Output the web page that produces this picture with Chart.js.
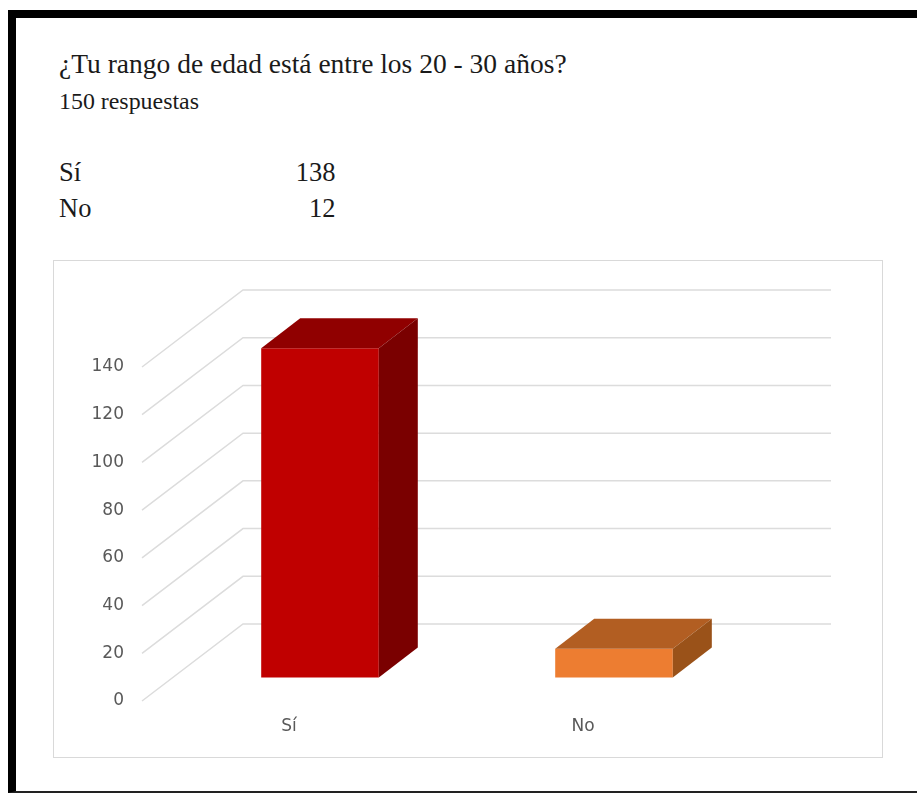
<!DOCTYPE html>
<html lang="es">
<head>
<meta charset="UTF-8">
<title>Rango de edad</title>
<script src="https://cdn.jsdelivr.net/npm/chart.js"></script>
<style>
    html, body { margin: 0; padding: 0; background: #fff; overflow: hidden; }
    body { width: 917px; height: 793px; position: relative; font-family: 'Liberation Serif', serif; color: #1a1a1a; }
    .frame { position: absolute; left: 8px; top: 10px; width: 901px; height: 773px;
             border-top: 8px solid #000; border-left: 8px solid #000; border-bottom: 2px solid #222; }
    .txt { position: absolute; white-space: nowrap; line-height: 1; }
    #title { left: 59px; top: 50px; font-size: 27.5px; }
    #sub { left: 59px; top: 90px; font-size: 23.9px; }
    .cat { left: 59px; font-size: 26.5px; }
    .val { right: 581.5px; font-size: 26.5px; }
    .box { position: absolute; left: 53px; top: 260px; width: 828px; height: 496px; border: 1px solid #d9d9d9; }
    canvas { display: block; }
</style>
</head>
<body>
<div class="frame"></div>
<div class="txt" id="title">¿Tu rango de edad está entre los 20 - 30 años?</div>
<div class="txt" id="sub">150 respuestas</div>
<div class="txt cat" style="top:159px">Sí</div>
<div class="txt val" style="top:159px">138</div>
<div class="txt cat" style="top:195px">No</div>
<div class="txt val" style="top:195px">12</div>
<div class="box"><canvas id="chart" width="828" height="496"></canvas></div>

<script>
const categories = ['Sí', 'No'];
const respuestas = [138, 12];
const frontColors = ['#c00000', '#ed7d31'];
const topColors = ['#900000', '#b25e22'];
const sideColors = ['#7a0000', '#9a5219'];

// 3D look: floor depth, and where the bars sit inside that depth
const wall = { dx: 101, dy: -77 };
const barStart = { dx: 31, dy: -23.5 };
const barDepth = { dx: 39, dy: -30 };

function face(ctx, pts, color) {
    ctx.fillStyle = color;
    ctx.beginPath();
    pts.forEach((p, i) => i ? ctx.lineTo(p[0], p[1]) : ctx.moveTo(p[0], p[1]));
    ctx.closePath();
    ctx.fill();
}

const box3d = {
    id: 'box3d',
    beforeDatasetsDraw(chart) {
        const { ctx, scales: { x, y } } = chart;
        ctx.save();
        ctx.strokeStyle = '#dcdcdc';
        ctx.lineWidth = 1.5;
        y.ticks.forEach(t => {
            const py = y.getPixelForValue(t.value);
            ctx.beginPath();
            ctx.moveTo(x.left, py);
            ctx.lineTo(x.left + wall.dx, py + wall.dy);
            ctx.lineTo(x.right + wall.dx, py + wall.dy);
            ctx.stroke();
        });
        ctx.restore();
    },
    beforeDatasetDraw(chart) {
        // native bars are moved back onto the front plane of the boxes
        chart.ctx.save();
        chart.ctx.translate(barStart.dx, barStart.dy);
    },
    afterDatasetDraw(chart, args) {
        const ctx = chart.ctx;
        args.meta.data.forEach((bar, i) => {
            const l = bar.x - bar.width / 2, r = bar.x + bar.width / 2;
            const t = bar.y, b = bar.base;
            const d = barDepth;
            face(ctx, [[l, t], [r, t], [r + d.dx, t + d.dy], [l + d.dx, t + d.dy]], topColors[i]);
            face(ctx, [[r, t], [r + d.dx, t + d.dy], [r + d.dx, b + d.dy], [r, b]], sideColors[i]);
        });
        ctx.restore();
    }
};

new Chart(document.getElementById('chart'), {
    type: 'bar',
    data: {
        labels: categories,
        datasets: [{
            data: respuestas,
            backgroundColor: frontColors,
            barPercentage: 0.4,
            categoryPercentage: 1,
            clip: false
        }]
    },
    options: {
        responsive: false,
        animation: false,
        layout: { padding: { top: 106, right: 152, left: 0, bottom: 0 } },
        plugins: { legend: { display: false }, tooltip: { enabled: false } },
        scales: {
            x: {
                grid: { display: false, drawTicks: false },
                border: { display: false },
                ticks: { color: '#595959', padding: 15, font: { family: 'DejaVu Sans', size: 17 } },
                afterFit(scale) { scale.height = 56; }
            },
            y: {
                min: 0,
                max: 140,
                grid: { display: false, drawTicks: false },
                border: { display: false },
                ticks: { stepSize: 20, color: '#595959', padding: 18, font: { family: 'DejaVu Sans', size: 17 } },
                afterFit(scale) { scale.width = 88; }
            }
        }
    },
    plugins: [box3d]
});
</script>
</body>
</html>
